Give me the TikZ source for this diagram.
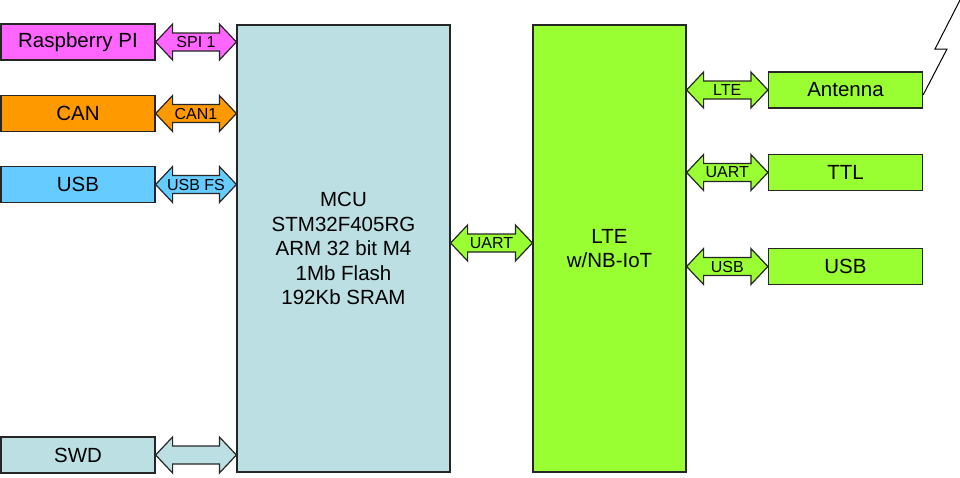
\documentclass[tikz,border=0pt]{standalone}
\usepackage{fontspec}
\setmainfont{Liberation Sans}
\usetikzlibrary{calc}
\definecolor{rpipink}{HTML}{FF66FF}
\definecolor{canorange}{HTML}{FF9900}
\definecolor{usbblue}{HTML}{66CCFF}
\definecolor{mcublue}{HTML}{BBDFE2}
\definecolor{ltegreen}{HTML}{99FF33}
% fat double arrow: from, to, colour, label name, label text
\newcommand\fatarr[5]{%
  \draw[arr,fill=#3] (#1) -- ($(#1)+(17,-18)$) -- ($(#1)+(17,-9)$)
    -- ($(#2)+(-17,-9)$) -- ($(#2)+(-17,-18)$) -- (#2)
    -- ($(#2)+(-17,18)$) -- ($(#2)+(-17,9)$)
    -- ($(#1)+(17,9)$) -- ($(#1)+(17,18)$) -- cycle;
  \node[lbl] (#4) at ($(#1)!0.5!(#2)$) {#5};}

\begin{document}
\begin{tikzpicture}[x=1pt,y=-1pt,
    box/.style={draw=black!85,line width=1.2pt,minimum width=154pt,minimum height=36pt,
      inner sep=0pt,font=\fontsize{20.5}{24.5}\selectfont},
    arr/.style={draw=black!85,line width=1.2pt,line join=miter},
    lbl/.style={inner sep=0pt,font=\fontsize{16}{18}\selectfont}]
  \useasboundingbox (0,0) rectangle (960,477);
  % left side
  \node[box,fill=rpipink]   (rpi)  at (78,42)    {Raspberry PI};
  \node[box,fill=canorange] (can)  at (78,113.5) {CAN};
  \node[box,fill=usbblue]   (usbl) at (78,184.5) {USB};
  \node[box,fill=mcublue]   (swd)  at (78,455)   {SWD};
  % main blocks
  \node[box,fill=mcublue,minimum width=213pt,minimum height=447pt,align=center]
    (mcu) at (343.5,248.5) {MCU\\STM32F405RG\\ARM 32 bit M4\\1Mb Flash\\192Kb SRAM};
  \node[box,fill=ltegreen,minimum width=153pt,minimum height=447pt,align=center]
    (lte) at (609.5,248.5) {LTE\\w/NB-IoT};
  % right side
  \node[box,fill=ltegreen] (ant)  at (845.5,90)    {Antenna};
  \node[box,fill=ltegreen] (ttl)  at (845.5,172.5) {TTL};
  \node[box,fill=ltegreen] (usbr) at (845.5,266.5) {USB};
  % links
  \coordinate (m1) at (mcu.west |- rpi.east);
  \coordinate (m2) at (mcu.west |- can.east);
  \coordinate (m3) at (mcu.west |- usbl.east);
  \coordinate (m4) at (mcu.west |- swd.east);
  \coordinate (u1) at ($(mcu.east)+(0,-5.5)$);
  \coordinate (u2) at (lte.west |- u1);
  \coordinate (l1) at (lte.east |- ant.west);
  \coordinate (l2) at (lte.east |- ttl.west);
  \coordinate (l3) at (lte.east |- usbr.west);
  \fatarr{rpi.east}{m1}{rpipink}{spi}{SPI 1}
  \fatarr{can.east}{m2}{canorange}{can1}{CAN1}
  \fatarr{usbl.east}{m3}{usbblue}{usbfs}{USB FS}
  \fatarr{swd.east}{m4}{mcublue}{swdl}{}
  \fatarr{u1}{u2}{ltegreen}{uart}{UART}
  \fatarr{l1}{ant.west}{ltegreen}{ltel}{LTE}
  \fatarr{l2}{ttl.west}{ltegreen}{uartr}{UART}
  \fatarr{l3}{usbr.west}{ltegreen}{usbl2}{USB}
  % antenna
  \coordinate (sky) at (960,0);
  \draw[line width=1pt] ($(ant.east)+(0,5)$) -- (947,49) -- (935,49) -- (sky);
\end{tikzpicture}
\end{document}
